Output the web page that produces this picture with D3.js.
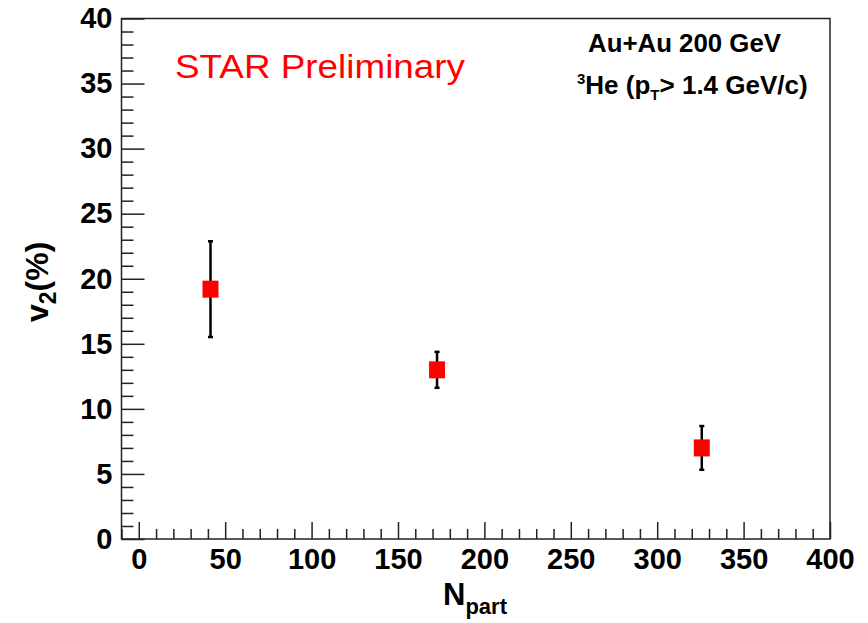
<!DOCTYPE html>
<html><head><meta charset="utf-8">
<script src="https://cdn.jsdelivr.net/npm/d3@7"></script>
<style>
body{margin:0;background:#fff;}
svg{display:block;}
text{font-family:"Liberation Sans",Arial,Helvetica,sans-serif;}
</style></head>
<body><svg id="c" width="868" height="623"></svg>
<script>
const npart = [41.5, 172.6, 325.8];
const v2 = [19.2, 13.0, 7.0];
const v2Err = [3.7, 1.4, 1.7];
const xMajor = [0, 50, 100, 150, 200, 250, 300, 350, 400];
const xMinor = d3.range(-10, 401, 10).filter(v => v % 50 !== 0);
const yMajor = [0, 5, 10, 15, 20, 25, 30, 35, 40];
const yMinor = d3.range(0, 41, 1).filter(v => v % 5 !== 0);

const svg = d3.select("#c");
const L = 121.5, R = 830, T = 18.5, B = 539;
const x = d3.scaleLinear().domain([-10, 400]).range([L, R]);
const y = d3.scaleLinear().domain([0, 40]).range([B, T]);

// frame
svg.append("rect").attr("x", L).attr("y", T).attr("width", R - L).attr("height", B - T)
  .attr("fill", "none").attr("stroke", "#222").attr("stroke-width", 1.5);

function styleAxis(g) {
  g.select(".domain").remove();
  g.selectAll(".tick line").attr("stroke", "#222").attr("stroke-width", 1.5);
  g.selectAll("text").attr("font-size", 29).attr("font-weight", "bold").attr("fill", "#000")
    .attr("font-family", "Liberation Sans, Arial, sans-serif");
}

// y axis
svg.append("g").attr("transform", `translate(${L},0)`)
  .call(d3.axisLeft(y).tickValues(yMinor).tickSize(-12).tickFormat(""))
  .call(styleAxis);
svg.append("g").attr("transform", `translate(${L},0)`)
  .call(d3.axisLeft(y).tickValues(yMajor).tickSize(-23).tickPadding(9).tickFormat(d3.format("d")))
  .call(styleAxis);

// x axis
svg.append("g").attr("transform", `translate(0,${B})`)
  .call(d3.axisBottom(x).tickValues(xMinor).tickSize(-10).tickFormat(""))
  .call(styleAxis);
svg.append("g").attr("transform", `translate(0,${B})`)
  .call(d3.axisBottom(x).tickValues(xMajor).tickSize(-17).tickPadding(9).tickFormat(d3.format("d")))
  .call(styleAxis);

// error bars
const pts = npart.map((n, i) => ({n, v: v2[i], e: v2Err[i]}));
const eg = svg.append("g");
eg.selectAll("line.eb").data(pts).join("line").attr("class", "eb")
  .attr("x1", d => x(d.n)).attr("x2", d => x(d.n))
  .attr("y1", d => y(d.v + d.e)).attr("y2", d => y(d.v - d.e))
  .attr("stroke", "#000").attr("stroke-width", 2.5);
eg.selectAll("rect.capT").data(pts).join("rect").attr("class", "capT")
  .attr("x", d => x(d.n) - 2.5).attr("y", d => y(d.v + d.e) - 1).attr("width", 5).attr("height", 2.5).attr("fill", "#000");
eg.selectAll("rect.capB").data(pts).join("rect").attr("class", "capB")
  .attr("x", d => x(d.n) - 2.5).attr("y", d => y(d.v - d.e) - 1.5).attr("width", 5).attr("height", 2.5).attr("fill", "#000");

// markers
svg.append("g").selectAll("rect").data(pts).join("rect")
  .attr("x", d => x(d.n) - 8).attr("y", d => y(d.v) - 8.5)
  .attr("width", 16).attr("height", 17).attr("fill", "#ff0000");

// texts
svg.append("text").attr("x", 175).attr("y", 78).attr("font-size", 33).attr("fill", "#ff0000")
  .attr("textLength", 290).attr("lengthAdjust", "spacingAndGlyphs").text("STAR Preliminary");

svg.append("text").attr("x", 588).attr("y", 52).attr("font-size", 25).attr("font-weight", "bold")
  .attr("textLength", 193).attr("lengthAdjust", "spacingAndGlyphs").text("Au+Au 200 GeV");

const t2 = svg.append("text").attr("x", 577).attr("y", 94).attr("font-size", 26).attr("font-weight", "bold");
t2.append("tspan").attr("font-size", 15).attr("dy", -10).text("3");
t2.append("tspan").attr("dy", 10).text("He (p");
t2.append("tspan").attr("font-size", 15).attr("dy", 6).text("T");
t2.append("tspan").attr("dy", -6).text("> 1.4 GeV/c)");

// x title
const xt = svg.append("text").attr("x", 443).attr("y", 605).attr("font-size", 31).attr("font-weight", "bold");
xt.append("tspan").text("N");
xt.append("tspan").attr("font-size", 22).attr("dy", 9).text("part");

// y title
const yt = svg.append("text").attr("transform", "translate(48,322) rotate(-90)")
  .attr("font-size", 32).attr("font-weight", "bold");
yt.append("tspan").text("v");
yt.append("tspan").attr("font-size", 23).attr("dy", 8).text("2");
yt.append("tspan").attr("dy", -8).text("(%)");
</script></body></html>
